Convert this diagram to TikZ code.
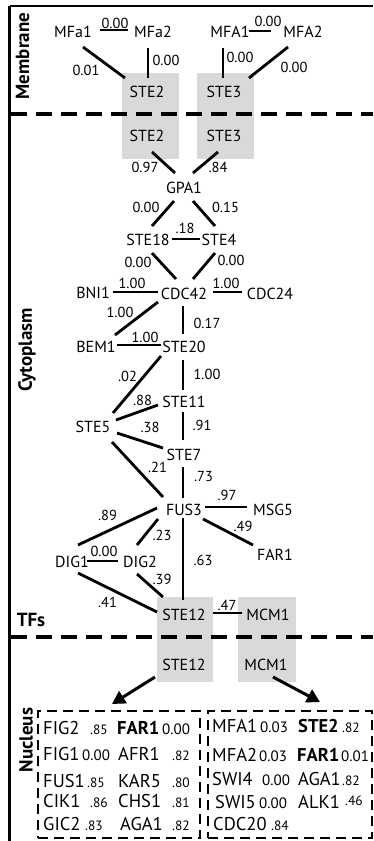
\documentclass[tikz,border=0pt]{standalone}
\usepackage{fontspec}
\setmainfont{PT Sans}
\usetikzlibrary{arrows.meta}
\definecolor{boxgray}{RGB}{217,217,217}
\newcommand\lnk[4]{\draw[edge] ([shift={(#2)}]#1.center) -- ([shift={(#4)}]#3.center);}
\begin{document}
\begin{tikzpicture}[x=1pt,y=-1pt,
  lbl/.style={font=\fontsize{16}{18}\selectfont, inner sep=0pt},
  wt/.style={font=\fontsize{14.5}{16}\selectfont, inner sep=0pt},
  edge/.style={line width=2.8pt},
  gbox/.style={fill=boxgray, draw=none, inner sep=0pt},
  sect/.style={font=\fontsize{19}{22}\selectfont\bfseries, inner sep=0pt},
  sepline/.style={line width=3.5pt, dash pattern=on 16pt off 9pt},
  nbox/.style={draw, line width=2pt, dash pattern=on 10pt off 6pt, inner sep=0pt},
  gene/.style={font=\fontsize{18.5}{20}\selectfont, anchor=base west, inner sep=0pt},
  numa/.style={font=\fontsize{13.5}{15}\selectfont, anchor=base west, inner sep=0pt},
  numb/.style={font=\fontsize{15}{16}\selectfont, anchor=base west, inner sep=0pt},
  arr/.style={line width=3pt, -{Triangle[length=13pt,width=14pt]}},
  frame/.style={line width=2.2pt}
]
\useasboundingbox (0,0) rectangle (373,841);
% gray boxes
\node[gbox, minimum width=57pt, minimum height=86pt] (g1) at (150.5,116) {};
\node[gbox, minimum width=57pt, minimum height=86pt] (g2) at (225.5,116) {};
\node[gbox, minimum width=56pt, minimum height=85pt] (g3) at (185,639.5) {};
\node[gbox, minimum width=58pt, minimum height=85pt] (g4) at (267,639.5) {};
% frame
\coordinate (ftl) at (9.5,6); \coordinate (ftr) at (373,6); \coordinate (fbl) at (9.5,841);
\draw[line width=1.5pt] (ftl) -- (ftr);
\draw[frame] (ftl) -- (fbl);
% separators
\coordinate (s1a) at (11,114); \coordinate (s1b) at (373,114);
\coordinate (s2a) at (11,637); \coordinate (s2b) at (373,637);
\draw[sepline] (s1a) -- (s1b);
\draw[sepline] (s2a) -- (s2b);
% section labels
\node[sect, rotate=90] (secm) at (22.5,56) {Membrane};
\node[sect, rotate=90] (secc) at (27,350) {Cytoplasm};
\node[sect, rotate=90] (secn) at (26,740) {Nucleus};
\node[sect] (sect) at (31,620) {TFs};
% gene nodes
\node[lbl] (mfa1) at (73,32) {MFa1};
\node[lbl] (mfa2) at (153,32) {MFa2};
\node[lbl] (mfA1) at (230,32) {MFA1};
\node[lbl] (mfA2) at (303,32) {MFA2};
\node[lbl] (ste2m) at (147,92) {STE2};
\node[lbl] (ste3m) at (224,92) {STE3};
\node[lbl] (ste2c) at (147,136) {STE2};
\node[lbl] (ste3c) at (224,136) {STE3};
\node[lbl] (gpa1) at (184,188) {GPA1};
\node[lbl] (ste18) at (148,240) {STE18};
\node[lbl] (ste4) at (219,240) {STE4};
\node[lbl] (bni1) at (93,293) {BNI1};
\node[lbl] (cdc42) at (184,294) {CDC42};
\node[lbl] (cdc24) at (270,294) {CDC24};
\node[lbl] (bem1) at (96,347) {BEM1};
\node[lbl] (ste20) at (184,347) {STE20};
\node[lbl] (ste11) at (184,402) {STE11};
\node[lbl] (ste5) at (93,427) {STE5};
\node[lbl] (ste7) at (184,455) {STE7};
\node[lbl] (fus3) at (184,510) {FUS3};
\node[lbl] (msg5) at (273,510) {MSG5};
\node[lbl] (far1) at (275,555) {FAR1};
\node[lbl] (dig1) at (72,562) {DIG1};
\node[lbl] (dig2) at (140,562) {DIG2};
\node[lbl] (ste12) at (184,615) {STE12};
\node[lbl] (mcm1) at (268,615) {MCM1};
\node[lbl] (ste12n) at (184,665) {STE12};
\node[lbl] (mcm1n) at (266,665) {MCM1};
% edge weights
\foreach \t/\x/\y [count=\i] in {0.00/115/23, 0.00/268/21.5, 0.01/86/70, 0.00/166/60, 0.00/240/57, 0.00/294/67,
  0.97/145/167.5, .84/218/167.5, 0.00/146/207.5, 0.15/225.5/207.5, .18/185/228.5, 0.00/138/262.5, 0.00/231/260,
  1.00/132/283, 1.00/226/283, 1.00/120/312.5, 0.17/207/323, 1.00/145/337, .02/127.5/376, 1.00/207/374,
  .88/142.5/400, .38/150/427.5, .91/202/425, .21/157.5/467, .73/203.5/477, .97/227/495, .49/243/526,
  .89/107.5/515, .23/162/535, 0.00/104/551, .63/203/560, .39/162/579, .41/107.5/602.5, .47/227/605}
  {\node[wt] (w\i) at (\x,\y) {\t};}
% edges
\lnk{mfa1}{27,-2}{mfa2}{-25,-2}
\lnk{mfA1}{19,-1}{mfA2}{-32,-1}
\lnk{mfa1}{10,15}{ste2m}{-22,-14}
\lnk{mfa2}{-5,16}{ste2m}{1,-14}
\lnk{mfA1}{-7,16}{ste3m}{-1,-14}
\lnk{mfA2}{-15,15}{ste3m}{25,-14}
\lnk{ste2c}{5,16}{gpa1}{-9,-15}
\lnk{ste3c}{-6,16}{gpa1}{9,-15}
\lnk{gpa1}{-10,13}{ste18}{4,-14}
\lnk{gpa1}{9,13}{ste4}{-4,-14}
\lnk{ste18}{24,-1}{ste4}{-19,-1}
\lnk{ste18}{4,13}{cdc42}{-8,-15}
\lnk{ste4}{-4,13}{cdc42}{9,-15}
\lnk{bni1}{20,-1}{cdc42}{-26,-2}
\lnk{cdc42}{29,-2}{cdc24}{-28,-2}
\lnk{cdc42}{-26,8}{bem1}{19,-12}
\lnk{cdc42}{-1,12}{ste20}{-1,-13}
\lnk{bem1}{21,-2}{ste20}{-23,-2}
\lnk{ste20}{-23,9}{ste5}{20,-14}
\lnk{ste20}{-1,13}{ste11}{-1,-12}
\lnk{ste5}{23,-7}{ste11}{-26,3}
\lnk{ste5}{24,6}{ste7}{-21,-7}
\lnk{ste11}{-1,10}{ste7}{-1,-15}
\lnk{ste5}{19,15}{fus3}{-21,-13}
\lnk{ste7}{-1,12}{fus3}{-1,-12}
\lnk{fus3}{21,-3}{msg5}{-26,-3}
\lnk{fus3}{19,9}{far1}{-22,-10}
\lnk{fus3}{-27,-2}{dig1}{6,-17}
\lnk{fus3}{-26,9}{dig2}{-3,-17}
\lnk{dig1}{15,-1}{dig2}{-22,-1}
\lnk{fus3}{-1,8}{ste12}{-1,-15}
\lnk{dig2}{-3,12}{ste12}{-21,-18}
\lnk{dig1}{6,11}{ste12}{-27,-3}
\lnk{ste12}{29,-2}{mcm1}{-26,-2}
% nucleus boxes
\node[nbox, minimum width=162pt, minimum height=127pt] (nl) at (119,774.5) {};
\node[nbox, minimum width=164pt, minimum height=127pt] (nr) at (290,774.5) {};
\draw[arr] ([shift={(-29,12)}]ste12n.center) -- ([shift={(-7,-6)}]nl.north);
\draw[arr] ([shift={(7,12)}]mcm1n.center) -- ([shift={(30,-8)}]nr.north);
% nucleus contents
\foreach \t/\x/\y [count=\i] in {FIG2/43/734, FIG1/43/760, FUS1/43/787, CIK1/43/807, GIC2/43/830,
  {\bfseries FAR1}/117/734, AFR1/118/760, KAR5/118/787, CHS1/118/807, AGA1/120/830,
  MFA1/212/732, MFA2/212/761, SWI4/212/785, SWI5/215/808, CDC20/213/830,
  {\bfseries STE2}/298/732, {\bfseries FAR1}/297/761, AGA1/298/785, ALK1/298/808}
  {\node[gene] (gn\i) at (\x,\y) {\t};}
\foreach \t/\x/\y [count=\i] in {.85/90/734, .85/87/787, .86/90/807, .83/85/830, .82/172/760, .80/172/787,
  .81/172/807, .82/172/830, .82/342/732, .82/342/785, .46/345/805, .84/271/830}
  {\node[numa] (na\i) at (\x,\y) {\t};}
\foreach \t/\x/\y [count=\i] in {0.00/162/734, 0.00/82/760, 0.03/260/732, 0.03/259/761, 0.00/262/785,
  0.00/259/808, 0.01/341/761}
  {\node[numb] (nb\i) at (\x,\y) {\t};}
\end{tikzpicture}
\end{document}
